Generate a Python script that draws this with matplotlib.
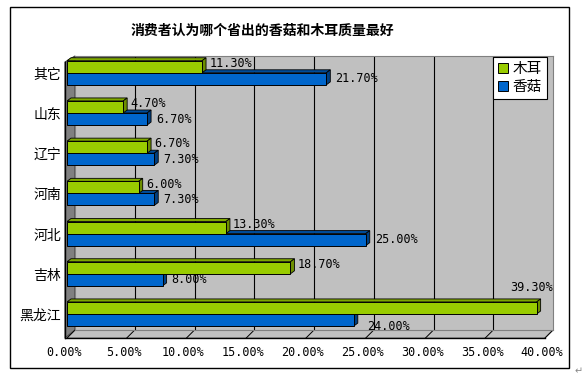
import matplotlib.pyplot as plt
from matplotlib.patches import Polygon, Rectangle

plt.rcParams['font.family'] = ['Noto Sans CJK SC', 'DejaVu Sans']

# data (bottom to top)
categories = ['黑龙江', '吉林', '河北', '河南', '辽宁', '山东', '其它']
muer = [39.3, 18.7, 13.3, 6.0, 6.7, 4.7, 11.3]
xianggu = [24.0, 8.0, 25.0, 7.3, 7.3, 6.7, 21.7]
series_names = ['木耳', '香菇']
xticks = [0, 5, 10, 15, 20, 25, 30, 35, 40]
title = '消费者认为哪个省出的香菇和木耳质量最好'

W, H = 585, 378
fig = plt.figure(figsize=(W / 100, H / 100), dpi=100)


def box(x0, y0, x1, y1):
    # pixel box measured from top-left -> figure fraction rect
    return [x0 / W, 1 - y1 / H, (x1 - x0) / W, (y1 - y0) / H]


# front plane / depth geometry in pixels
fx0, fx1, fyb = 67, 545, 338
depth = 8
pxper = (fx1 - fx0) / 40.0

# background: border, left wall, floor
bg = fig.add_axes([0, 0, 1, 1])
bg.set_xlim(0, W)
bg.set_ylim(H, 0)
bg.axis('off')
bg.add_patch(Rectangle((10, 7), 559, 361, fill=False, ec='black', lw=1))
bg.text(262, 31, title, ha='center', va='center', fontsize=10, fontweight='bold')
bg.text(579, 371, '↵', ha='center', va='center', fontsize=7, color='#888888')

bg.add_patch(Polygon([(fx0 - 2, fyb), (fx0 + depth, fyb - depth), (fx0 + depth, 56), (fx0 - 2, 62)],
                     closed=True, fc='#808080', ec='#404040', lw=0.8))
bg.add_patch(Polygon([(fx0, fyb), (fx1, fyb), (fx1 + depth, fyb - depth), (fx0 + depth, fyb - depth)],
                     closed=True, fc='#C0C0C0', ec='#808080', lw=0.8))
bg.plot([fx0 - 2, fx1], [fyb, fyb], color='black', lw=1)
bg.plot([fx0 - 2, fx0 - 2], [62, fyb], color='black', lw=1)
for t in xticks:
    xf = fx0 + t * pxper
    bg.plot([xf, xf + depth], [fyb, fyb - depth], color='black', lw=0.7)
    bg.text(xf - 3, 352, f'{t:.2f}%', ha='center', va='center',
            fontsize=8.5, family='DejaVu Sans Mono')

# back wall with gridlines
wall = fig.add_axes(box(fx0 + depth, 56, fx1 + depth, fyb - depth))
wall.set_facecolor('#C0C0C0')
wall.set_xlim(0, 40)
wall.set_ylim(0, 1)
for t in xticks[1:-1]:
    wall.axvline(t, color='black', lw=0.8)
wall.set_xticks([])
wall.set_yticks([])
for s in wall.spines.values():
    s.set_color('#808080')

# front axes with the bars
ax = fig.add_axes(box(fx0, 56, fx1, fyb))
ax.patch.set_alpha(0)
ax.set_xlim(0, 40)
ax.set_ylim(-0.597, 6.418)
ax.axis('off')

h = 0.3
dx = 4 / pxper
dy = 3 / 40.2
styles = [('#99CC00', '#6E8F00', '#7FA800'), ('#0066CC', '#003F80', '#004C99')]


def bar3d(y0, v, front, side, top):
    ax.barh(y0 + h / 2, v, height=h, color=front, edgecolor='black', lw=0.7, zorder=3)
    y1 = y0 + h
    ax.add_patch(Polygon([(0, y1), (v, y1), (v + dx, y1 + dy), (dx, y1 + dy)],
                         closed=True, fc=top, ec='black', lw=0.6, zorder=2))
    ax.add_patch(Polygon([(v, y0), (v + dx, y0 + dy), (v + dx, y1 + dy), (v, y1)],
                         closed=True, fc=side, ec='black', lw=0.6, zorder=2))


# blue first (lower), then green on top
for i, v in enumerate(xianggu):
    bar3d(i - h, v, *styles[1])
for i, v in enumerate(muer):
    bar3d(i, v, *styles[0])

lab = dict(fontsize=8.5, family='DejaVu Sans Mono', va='center', ha='left')
for i, v in enumerate(muer):
    if v > 35:
        ax.text(v - 0.4, i + 0.65, f'{v:.2f}%', **{**lab, 'ha': 'center'})
    else:
        ax.text(v + 0.6, i + 0.23, f'{v:.2f}%', **lab)
for i, v in enumerate(xianggu):
    yoff = -0.32 if i == 0 else -0.15
    xoff = 1.1 if i == 0 else 0.75
    ax.text(v + xoff, i + yoff, f'{v:.2f}%', **lab)

for i, c in enumerate(categories):
    bg.text(61, 314 - i * 40.2 + 2, c, ha='right', va='center', fontsize=10)

handles = [Rectangle((0, 0), 1, 1, fc=styles[0][0], ec='black', lw=0.7),
           Rectangle((0, 0), 1, 1, fc=styles[1][0], ec='black', lw=0.7)]
leg = ax.legend(handles, series_names, loc='upper left',
                bbox_to_anchor=(493 / W, 1 - 57 / H), bbox_transform=fig.transFigure,
                fontsize=10.5, fancybox=False, framealpha=1, edgecolor='black',
                borderpad=0.35, handlelength=0.7, handleheight=0.7,
                handletextpad=0.3, labelspacing=0.25, borderaxespad=0)
leg.get_frame().set_linewidth(0.8)
leg.set_zorder(10)

fig.savefig('out.png', dpi=100)
